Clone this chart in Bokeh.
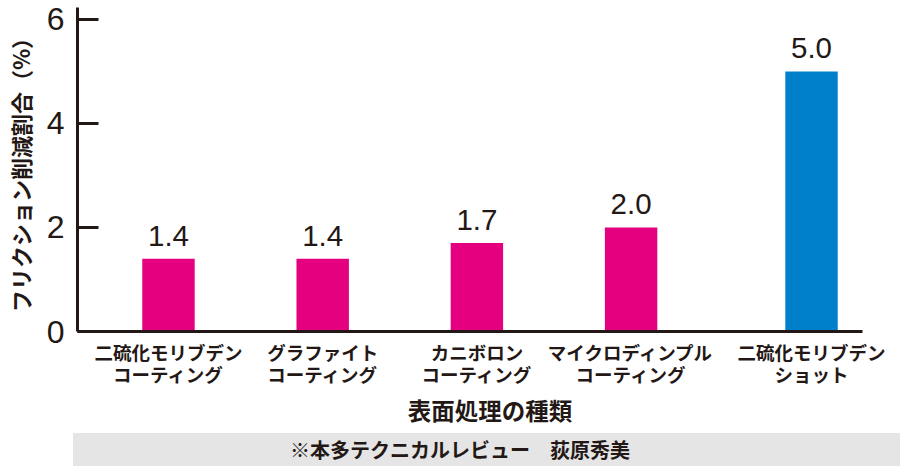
from bokeh.plotting import figure
from bokeh.models import FactorRange, Range1d, FixedTicker, Div, ColumnDataSource
from bokeh.layouts import column
from bokeh.embed import file_html
from bokeh.resources import INLINE
from bokeh.core.properties import value

# ---- data ----
groups = ["c", "c", "c", "c", "s"]
categories = [
    "二硫化モリブデン\nコーティング",
    "グラファイト\nコーティング",
    "カニボロン\nコーティング",
    "マイクロディンプル\nコーティング",
    "二硫化モリブデン\nショット",
]
values = [1.4, 1.4, 1.7, 2.0, 5.0]
colors = ["#E4007F", "#E4007F", "#E4007F", "#E4007F", "#0080CB"]
y_ticks = [0, 2, 4, 6]
y_label = "フリクション削減割合（%）"
x_label = "表面処理の種類"
footer = "※本多テクニカルレビュー　荻原秀美"

TXT = "#231815"
CJK = "Noto Sans CJK JP"
NUM = "Liberation Sans"

factors = list(zip(groups, categories))
src = ColumnDataSource(dict(
    x=factors, top=values, color=colors,
    label=[f"{v:.1f}" for v in values],
))

x_range = FactorRange(*factors, group_padding=0.17, range_padding=0.09,
                      range_padding_units="absolute")

p = figure(width=902, height=433, x_range=x_range, y_range=Range1d(0, 6.23),
           output_backend="svg", toolbar_location=None,
           min_border_left=73, min_border_right=0, min_border_top=7,
           min_border_bottom=102)
p.outline_line_color = None
p.grid.visible = False
p.background_fill_color = "white"
p.border_fill_color = "white"

p.vbar(x="x", top="top", width=0.34, color="color", source=src, line_color=None)
p.text(x="x", y="top", text="label", source=src, y_offset=-13,
       text_align="center", text_baseline="bottom",
       text_font=value(NUM), text_font_size="29.5px", text_color=TXT)

xa = p.xaxis[0]
xa.axis_line_width = 3
xa.axis_line_color = TXT
xa.major_tick_line_color = None
xa.minor_tick_line_color = None
xa.major_label_text_font = CJK
xa.major_label_text_font_size = "18.5px"
xa.major_label_text_font_style = "bold"
xa.major_label_text_color = TXT
xa.major_label_text_line_height = 0.85
xa.major_label_standoff = 1
xa.group_text_font_size = "0px"
xa.group_text_color = None
xa.separator_line_color = None
xa.axis_label = x_label
xa.axis_label_text_font = CJK
xa.axis_label_text_font_size = "23.5px"
xa.axis_label_text_font_style = "bold"
xa.axis_label_text_color = TXT
xa.axis_label_text_line_height = 0.8
xa.axis_label_standoff = 3
xa.bounds = (-0.09, 5.0)

ya = p.yaxis[0]
ya.ticker = FixedTicker(ticks=y_ticks)
ya.axis_line_width = 3
ya.axis_line_color = TXT
ya.major_tick_in = 21
ya.major_tick_out = 0
ya.major_tick_line_width = 3
ya.major_tick_line_color = TXT
ya.minor_tick_line_color = None
ya.major_label_text_font = NUM
ya.major_label_text_font_size = "32px"
ya.major_label_text_color = TXT
ya.major_label_text_line_height = 0.8
ya.major_label_standoff = 13
ya.axis_label = y_label
ya.axis_label_text_font = CJK
ya.axis_label_text_font_size = "22px"
ya.axis_label_text_font_style = "bold"
ya.axis_label_text_color = TXT
ya.axis_label_text_line_height = 0.8
ya.axis_label_standoff = 8

foot = Div(
    text=(f'<div style="background:#e5e5e5;height:33px;line-height:33px;'
          f'padding-left:217px;box-sizing:border-box;width:827px;'
          f'font-family:\'{CJK}\';font-size:20px;font-weight:bold;color:{TXT};">'
          f'{footer}</div>'),
    width=827, height=33, margin=(0, 0, 0, 73),
)

layout = column(p, foot, spacing=0)
open("out.html", "w").write(file_html(layout, INLINE))
